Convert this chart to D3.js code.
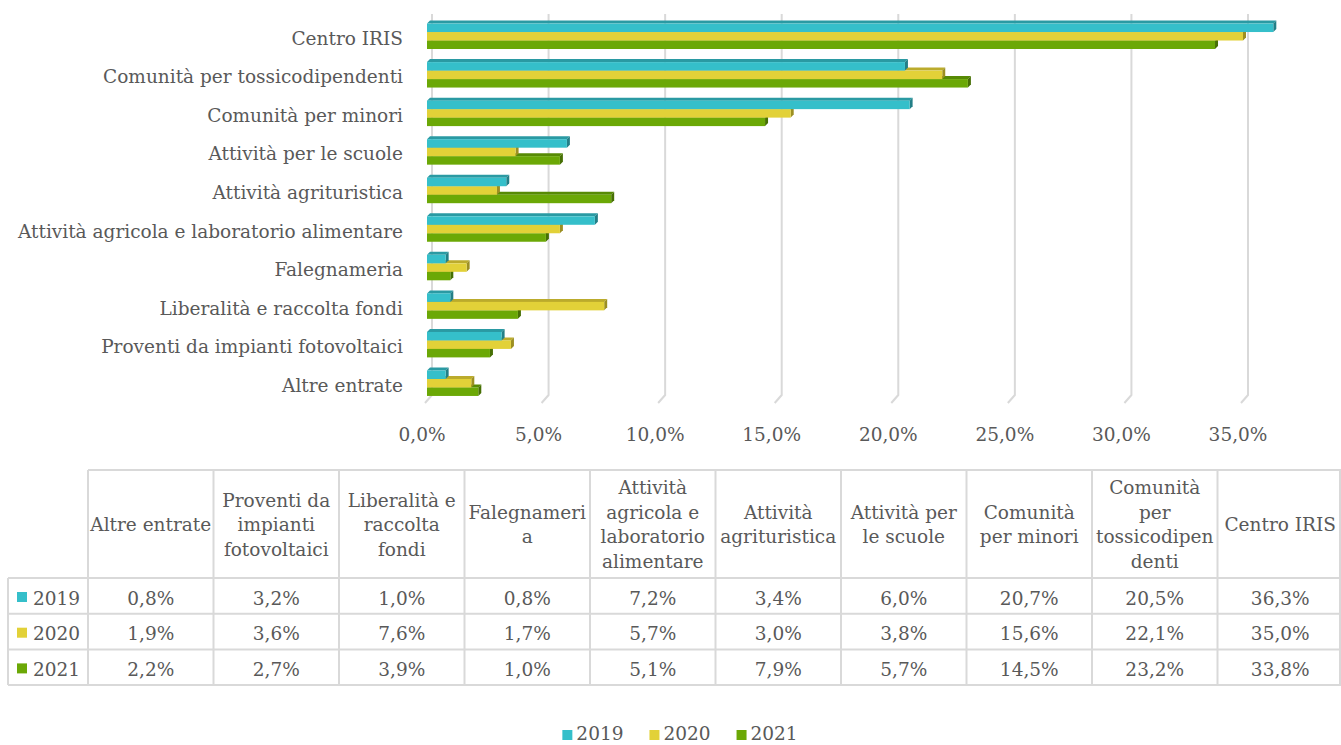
<!DOCTYPE html>
<html>
<head>
<meta charset="utf-8">
<script src="https://cdn.jsdelivr.net/npm/d3@7"></script>
<style>
  html, body { margin: 0; padding: 0; background: #fff; }
</style>
</head>
<body>
<div id="chart"></div>
<script>
// --- DATA ---
// category order as in the data table (first one ends up at the bottom of the bars)
const categories = [
    "Altre entrate",
    "Proventi da impianti fotovoltaici",
    "Liberalità e raccolta fondi",
    "Falegnameria",
    "Attività agricola e laboratorio alimentare",
    "Attività agrituristica",
    "Attività per le scuole",
    "Comunità per minori",
    "Comunità per tossicodipendenti",
    "Centro IRIS"
];
// how the table header wraps the category names
const headerLines = [
    ["Altre entrate"],
    ["Proventi da", "impianti", "fotovoltaici"],
    ["Liberalità e", "raccolta", "fondi"],
    ["Falegnameri", "a"],
    ["Attività", "agricola e", "laboratorio", "alimentare"],
    ["Attività", "agrituristica"],
    ["Attività per", "le scuole"],
    ["Comunità", "per minori"],
    ["Comunità", "per", "tossicodipen", "denti"],
    ["Centro IRIS"]
];
const years = ["2019", "2020", "2021"];
const values2019 = [0.8, 3.2, 1.0, 0.8, 7.2, 3.4, 6.0, 20.7, 20.5, 36.3];
const values2020 = [1.9, 3.6, 7.6, 1.7, 5.7, 3.0, 3.8, 15.6, 22.1, 35.0];
const values2021 = [2.2, 2.7, 3.9, 1.0, 5.1, 7.9, 5.7, 14.5, 23.2, 33.8];
const tickValues = [0, 5, 10, 15, 20, 25, 30, 35];

const series = [
    { year: years[0], values: values2019, color: "#35bfca", top: "#2a9aa3", side: "#237f87" },
    { year: years[1], values: values2020, color: "#e2d138", top: "#bbab2c", side: "#9c8f22" },
    { year: years[2], values: values2021, color: "#6ba806", top: "#578a05", side: "#466f04" }
];

const width = 1341, height = 745;
const fontSize = 18.5;
const fontFamily = '"DejaVu Serif", "Liberation Serif", "Times New Roman", serif';
const itLocale = d3.formatLocale({ decimal: ",", thousands: ".", grouping: [3], currency: ["", "€"] });
const pct = v => itLocale.format(".1f")(v) + "%";

const svg = d3.create("svg")
    .attr("width", width)
    .attr("height", height)
    .attr("viewBox", [0, 0, width, height])
    .style("font-family", fontFamily)
    .attr("font-size", fontSize)
    .attr("fill", "#595959");

svg.append("rect").attr("width", width).attr("height", height).attr("fill", "#fff");

// --- 1. 3D BAR CHART ---
// back wall scale (gridlines); bars sit a few pixels in front of it
const x = d3.scaleLinear().domain([0, 35]).range([432, 1248]);
const frontShift = -5, depthX = 3, depthY = -3;
const gridTop = 14, gridBottom = 395, floorFront = 403, floorShift = -7;

const y = d3.scaleBand()
    .domain(categories.slice().reverse())
    .range([17, 402.5])
    .paddingInner(0.34)
    .paddingOuter(0.17);
const barH = y.bandwidth() / series.length;

const grid = svg.append("g").attr("class", "grid")
    .attr("fill", "none")
    .attr("stroke", "#d9d9d9")
    .attr("stroke-width", 2);

grid.selectAll("path")
    .data(tickValues)
    .join("path")
    .attr("d", d => `M${x(d)},${gridTop}V${gridBottom}L${x(d) + floorShift},${floorFront}`);

svg.append("g").attr("class", "x-ticks")
    .selectAll("text")
    .data(tickValues)
    .join("text")
    .attr("x", d => x(d) - 10)
    .attr("y", 441)
    .attr("text-anchor", "middle")
    .text(d => pct(d));

svg.append("g").attr("class", "y-labels")
    .selectAll("text")
    .data(categories)
    .join("text")
    .attr("x", 403)
    .attr("y", d => y(d) + y.bandwidth() / 2 + 8.5)
    .attr("text-anchor", "end")
    .text(d => d);

// draw bottom series first so the bar above hides its top face
const bars = svg.append("g").attr("class", "bars");
series.slice().reverse().forEach(s => {
    const si = series.indexOf(s);
    const g = bars.append("g").attr("class", "series-" + s.year);
    const rows = g.selectAll("g")
        .data(categories.map((c, i) => ({ cat: c, v: s.values[i] })))
        .join("g");

    const x0 = x(0) + frontShift;
    const yTop = d => y(d.cat) + si * barH;
    const xEnd = d => x(d.v) + frontShift;

    // top face
    rows.append("path")
        .attr("fill", s.top)
        .attr("d", d => `M${x0},${yTop(d)}L${x0 + depthX},${yTop(d) + depthY}L${xEnd(d) + depthX},${yTop(d) + depthY}L${xEnd(d)},${yTop(d)}Z`);
    // right face
    rows.append("path")
        .attr("fill", s.side)
        .attr("d", d => `M${xEnd(d)},${yTop(d)}L${xEnd(d) + depthX},${yTop(d) + depthY}L${xEnd(d) + depthX},${yTop(d) + barH + depthY}L${xEnd(d)},${yTop(d) + barH}Z`);
    // front face
    rows.append("rect")
        .attr("fill", s.color)
        .attr("x", x0)
        .attr("y", d => yTop(d))
        .attr("width", d => xEnd(d) - x0)
        .attr("height", barH);
});

// --- 2. DATA TABLE ---
const tableLeft = 8, colStart = 88, colW = 125.5;
const headTop = 470, headBottom = 578, rowH = 35.7;
const tableBottom = headBottom + rowH * series.length;
const colX = d3.range(categories.length + 1).map(i => colStart + i * colW);

const table = svg.append("g").attr("class", "data-table");
const borders = table.append("g")
    .attr("stroke", "#d9d9d9")
    .attr("stroke-width", 2)
    .attr("fill", "none");

borders.append("line")
    .attr("x1", colStart).attr("x2", width)
    .attr("y1", headTop).attr("y2", headTop);
d3.range(series.length + 1).forEach(r => {
    borders.append("line")
        .attr("x1", tableLeft).attr("x2", width)
        .attr("y1", headBottom + r * rowH).attr("y2", headBottom + r * rowH);
});
colX.forEach(cx => {
    borders.append("line")
        .attr("x1", Math.min(cx, width - 1)).attr("x2", Math.min(cx, width - 1))
        .attr("y1", headTop).attr("y2", tableBottom);
});
borders.append("line")
    .attr("x1", tableLeft).attr("x2", tableLeft)
    .attr("y1", headBottom).attr("y2", tableBottom);

// header cells
const lineH = 24.5;
table.append("g").selectAll("text")
    .data(headerLines)
    .join("text")
    .attr("text-anchor", "middle")
    .each(function(lines, i) {
        const cx = colX[i] + colW / 2;
        const midY = (headTop + headBottom) / 2;
        const first = midY - (lines.length - 1) * lineH / 2 + 7;
        d3.select(this).selectAll("tspan")
            .data(lines)
            .join("tspan")
            .attr("x", cx)
            .attr("y", (l, j) => first + j * lineH)
            .text(l => l);
    });

// value rows
series.forEach((s, r) => {
    const rowTop = headBottom + r * rowH;
    const row = table.append("g").attr("class", "row-" + s.year);
    row.append("rect")
        .attr("x", 17).attr("y", rowTop + 14)
        .attr("width", 10).attr("height", 10)
        .attr("fill", s.color);
    row.append("text")
        .attr("x", 33).attr("y", rowTop + 26.5)
        .text(s.year);
    row.selectAll("text.val")
        .data(s.values)
        .join("text")
        .attr("class", "val")
        .attr("x", (v, i) => colX[i] + colW / 2)
        .attr("y", rowTop + 26.5)
        .attr("text-anchor", "middle")
        .text(v => pct(v));
});

// --- 3. LEGEND ---
const legend = svg.append("g").attr("class", "legend");
const items = legend.selectAll("g")
    .data(series)
    .join("g");
items.append("rect")
    .attr("width", 10).attr("height", 10)
    .attr("y", -10)
    .attr("fill", d => d.color);
items.append("text")
    .attr("x", 14)
    .text(d => d.year);

document.getElementById("chart").append(svg.node());

// lay legend items side by side, centred
const widths = [];
items.each(function() {
    widths.push(14 + this.querySelector("text").getComputedTextLength());
});
const gap = 26;
const total = d3.sum(widths) + gap * (widths.length - 1);
let cursor = 680 - total / 2;
items.attr("transform", (d, i) => {
    const t = `translate(${cursor},${740})`;
    cursor += widths[i] + gap;
    return t;
});
</script>
</body>
</html>
